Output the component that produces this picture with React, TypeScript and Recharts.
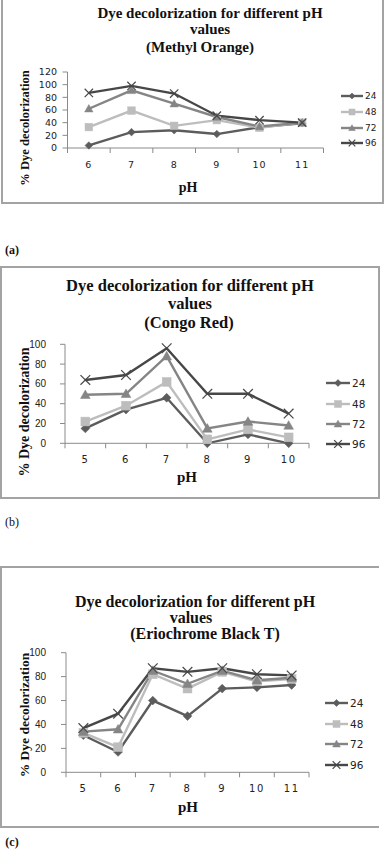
import React from 'react';
import { LineChart, Line, XAxis, YAxis } from 'recharts';

// ---------- data ----------
const SERIES_NAMES = ['24', '48', '72', '96'];
const SERIES_COLORS = ['#5c5c5c', '#bdbdbd', '#858585', '#474747'];
const SERIES_SHAPES = ['diamond', 'square', 'triangle', 'cross'];

const MO_PH = ['6', '7', '8', '9', '10', '11'];
const MO_24 = [4, 25, 28, 22, 33, 39];
const MO_48 = [33, 59, 35, 44, 32, 40];
const MO_72 = [62, 91, 70, 49, 34, 40];
const MO_96 = [87, 98, 86, 51, 44, 40];

const CR_PH = ['5', '6', '7', '8', '9', '10'];
const CR_24 = [15, 34, 46, 0, 9, 0];
const CR_48 = [22, 38, 62, 4, 14, 6];
const CR_72 = [49, 50, 88, 15, 22, 18];
const CR_96 = [64, 69, 96, 50, 50, 30];

const EBT_PH = ['5', '6', '7', '8', '9', '10', '11'];
const EBT_24 = [31, 17, 60, 47, 70, 71, 73];
const EBT_48 = [33, 21, 82, 70, 84, 76, 78];
const EBT_72 = [34, 36, 85, 74, 85, 77, 79];
const EBT_96 = [37, 49, 87, 84, 87, 82, 81];

const MO_TICKS = [0, 20, 40, 60, 80, 100, 120];
const CR_TICKS = [0, 20, 40, 60, 80, 100];
const EBT_TICKS = [0, 20, 40, 60, 80, 100];

const AXIS = '#8a8a8a';
const FRAME = '#a3a3a3';
const SERIF = '"Liberation Serif", "Times New Roman", serif';
const SANS = '"DejaVu Sans", Verdana, sans-serif';
const ARIAL = '"Liberation Sans", Arial, sans-serif';

// ---------- markers ----------
function marker(shape: string, cx: number, cy: number, color: string, s: number, key?: string) {
  if (cx == null || cy == null || isNaN(cx) || isNaN(cy)) return <g key={key} />;
  if (shape === 'diamond') {
    return (
      <path key={key} d={`M${cx},${cy - s} L${cx + s},${cy} L${cx},${cy + s} L${cx - s},${cy} Z`} fill={color} stroke={color} strokeWidth={0.5} />
    );
  }
  if (shape === 'square') {
    return <rect key={key} x={cx - s} y={cy - s} width={2 * s} height={2 * s} fill={color} stroke={color} strokeWidth={0.5} />;
  }
  if (shape === 'triangle') {
    return (
      <path key={key} d={`M${cx},${cy - s * 1.1} L${cx + s * 1.1},${cy + s * 0.85} L${cx - s * 1.1},${cy + s * 0.85} Z`} fill={color} stroke={color} strokeWidth={0.5} />
    );
  }
  return (
    <g key={key} stroke={color} strokeWidth={1.2}>
      <line x1={cx - s * 1.1} y1={cy - s * 1.1} x2={cx + s * 1.1} y2={cy + s * 1.1} />
      <line x1={cx - s * 1.1} y1={cy + s * 1.1} x2={cx + s * 1.1} y2={cy - s * 1.1} />
    </g>
  );
}

type Geo = {
  top: number;
  height: number;
  left: number;
  right: number;
  plotTop: number;
  plotBottom: number;
};

type PanelProps = {
  ph: string[];
  values: number[][];
  geo: Geo;
  yTicks: number[];
  yTickFont: { size: number; family: string };
  yTickMargin: number;
  xLabelY: number;
  xTickFont: { size: number; family: string; spacing: number };
  markerSize: number;
};

function Panel(props: PanelProps) {
  const { ph, values, geo, yTicks, yTickFont, yTickMargin, xLabelY, xTickFont, markerSize } = props;
  const n = ph.length;
  const data = ph.map((p, i) => {
    const row: any = { x: i + 0.5, pH: p };
    values.forEach((arr, k) => {
      row['s' + k] = arr[i];
    });
    return row;
  });
  const xTicks: number[] = [];
  for (let k = 0; k <= 2 * n; k++) xTicks.push(k / 2);
  const YW = 40;
  const XH = 20;
  const margin = {
    top: geo.plotTop - geo.top,
    left: geo.left - YW,
    right: 387 - geo.right,
    bottom: geo.top + geo.height - geo.plotBottom - XH,
  };
  const pb = geo.plotBottom - geo.top;
  const renderXTick = (tp: any) => {
    const { x, payload, index } = tp;
    const v = payload.value;
    if (Math.abs(v - Math.round(v)) < 1e-6) {
      return <line key={'t' + index} x1={x} x2={x} y1={pb} y2={pb + 5} stroke={AXIS} strokeWidth={1} />;
    }
    const idx = Math.floor(v);
    return (
      <text
        key={'t' + index}
        x={x}
        y={xLabelY - geo.top}
        textAnchor="middle"
        dominantBaseline="central"
        fontSize={xTickFont.size}
        fontFamily={xTickFont.family}
        letterSpacing={xTickFont.spacing}
        fill="#222"
      >
        {ph[idx]}
      </text>
    );
  };
  const yMax = yTicks[yTicks.length - 1];
  return (
    <div style={{ position: 'absolute', left: 0, top: geo.top }}>
      <LineChart width={387} height={geo.height} data={data} margin={margin}>
        <XAxis
          dataKey="x"
          type="number"
          domain={[0, n]}
          ticks={xTicks}
          interval={0}
          tickLine={false}
          tick={renderXTick}
          height={XH}
          axisLine={{ stroke: AXIS, strokeWidth: 1 }}
          allowDecimals
        />
        <YAxis
          type="number"
          domain={[0, yMax]}
          ticks={yTicks}
          interval={0}
          width={YW}
          tickSize={5}
          tickMargin={yTickMargin}
          tickLine={{ stroke: AXIS }}
          axisLine={{ stroke: AXIS, strokeWidth: 1 }}
          tick={{ fontSize: yTickFont.size, fontFamily: yTickFont.family, fill: '#222' }}
        />
        {SERIES_NAMES.map((nm, k) => (
          <Line
            key={nm}
            name={nm}
            dataKey={'s' + k}
            type="linear"
            stroke={SERIES_COLORS[k]}
            strokeWidth={2.4}
            isAnimationActive={false}
            activeDot={false}
            dot={(dp: any) => marker(SERIES_SHAPES[k], dp.cx, dp.cy, SERIES_COLORS[k], markerSize, `${nm}-${dp.index}`)}
          />
        ))}
      </LineChart>
    </div>
  );
}

function LegendBox({ x1, x2, ys, fontSize, family, markerSize }: { x1: number; x2: number; ys: number[]; fontSize: number; family: string; markerSize: number }) {
  return (
    <svg style={{ position: 'absolute', left: 0, top: 0, overflow: 'visible' }} width={387} height={858}>
      {SERIES_NAMES.map((nm, k) => (
        <g key={nm}>
          <line x1={x1} x2={x2} y1={ys[k]} y2={ys[k]} stroke={SERIES_COLORS[k]} strokeWidth={2.4} />
          {marker(SERIES_SHAPES[k], (x1 + x2) / 2, ys[k], SERIES_COLORS[k], markerSize)}
          <text x={x2 + 2} y={ys[k]} dominantBaseline="central" fontSize={fontSize} fontFamily={family} fill="#222">
            {nm}
          </text>
        </g>
      ))}
    </svg>
  );
}

function TextLine({ text, cx, cy, size, bold = true, width = 320 }: { text: string; cx: number; cy: number; size: number; bold?: boolean; width?: number }) {
  return (
    <div
      style={{
        position: 'absolute',
        left: cx - width / 2,
        top: cy - 10,
        width,
        height: 20,
        lineHeight: '20px',
        textAlign: 'center',
        fontFamily: SERIF,
        fontWeight: bold ? 'bold' : 'normal',
        fontSize: size,
        color: '#111',
        whiteSpace: 'nowrap',
      }}
    >
      {text}
    </div>
  );
}

function VText({ text, cx, cy, size }: { text: string; cx: number; cy: number; size: number }) {
  const w = 200;
  return (
    <div
      style={{
        position: 'absolute',
        left: cx - w / 2,
        top: cy - 10,
        width: w,
        height: 20,
        lineHeight: '20px',
        textAlign: 'center',
        fontFamily: SERIF,
        fontWeight: 'bold',
        fontSize: size,
        color: '#111',
        whiteSpace: 'nowrap',
        transform: 'rotate(-90deg)',
        transformOrigin: 'center center',
      }}
    >
      {text}
    </div>
  );
}

export default function App() {
  return (
    <div style={{ position: 'absolute', left: 0, top: 0, width: 387, height: 858, background: '#fff', overflow: 'hidden' }}>
      {/* frames */}
      <div style={{ position: 'absolute', left: 1, top: -2, width: 383, height: 206, boxSizing: 'border-box', border: `2px solid ${FRAME}` }} />
      <div style={{ position: 'absolute', left: 0, top: 266, width: 380, height: 233, boxSizing: 'border-box', border: `2px solid ${FRAME}` }} />
      <div style={{ position: 'absolute', left: 0, top: 566, width: 379, height: 262, boxSizing: 'border-box', border: `2px solid ${FRAME}`, borderRight: 'none' }} />

      {/* (a) Methyl Orange */}
      <TextLine text="Dye decolorization for different pH" cx={210} cy={13} size={15} />
      <TextLine text="values" cx={210} cy={29} size={15} />
      <TextLine text="(Methyl Orange)" cx={200} cy={47} size={15} />
      <VText text="% Dye decolorization" cx={25} cy={128} size={12.5} />
      <TextLine text="pH" cx={188} cy={188} size={14} />
      <Panel
        ph={MO_PH}
        values={[MO_24, MO_48, MO_72, MO_96]}
        geo={{ top: 0, height: 204, left: 67.5, right: 323.5, plotTop: 72, plotBottom: 148 }}
        yTicks={MO_TICKS}
        yTickFont={{ size: 9.5, family: SANS }}
        yTickMargin={5.5}
        xLabelY={164}
        xTickFont={{ size: 9.5, family: SANS, spacing: 1 }}
        markerSize={3.8}
      />
      <LegendBox x1={341} x2={363} ys={[96, 112, 128, 143]} fontSize={9} family={SANS} markerSize={3} />
      <TextLine text="(a)" cx={12} cy={250} size={12} />

      {/* (b) Congo Red */}
      <TextLine text="Dye decolorization for different pH" cx={190} cy={286} size={16.5} />
      <TextLine text="values" cx={190} cy={304} size={16.5} />
      <TextLine text="(Congo Red)" cx={189} cy={323} size={16.5} />
      <VText text="% Dye decolorization" cx={25} cy={412} size={14} />
      <TextLine text="pH" cx={187} cy={477} size={15} />
      <Panel
        ph={CR_PH}
        values={[CR_24, CR_48, CR_72, CR_96]}
        geo={{ top: 268, height: 229, left: 65, right: 309, plotTop: 344.3, plotBottom: 443.3 }}
        yTicks={CR_TICKS}
        yTickFont={{ size: 10, family: ARIAL }}
        yTickMargin={14}
        xLabelY={459}
        xTickFont={{ size: 10, family: SANS, spacing: 1.5 }}
        markerSize={4.4}
      />
      <LegendBox x1={326} x2={350} ys={[383, 404, 424, 444]} fontSize={10.5} family={SANS} markerSize={3.5} />
      <TextLine text="(b)" cx={12} cy={522} size={12} bold={false} />

      {/* (c) Eriochrome Black T */}
      <TextLine text="Dye decolorization for different pH" cx={195} cy={602} size={16} />
      <TextLine text="values" cx={191} cy={618} size={16} />
      <TextLine text="(Eriochrome Black T)" cx={205} cy={634} size={16} />
      <VText text="% Dye decolorization" cx={25} cy={715} size={13.5} />
      <TextLine text="pH" cx={188} cy={807} size={15} />
      <Panel
        ph={EBT_PH}
        values={[EBT_24, EBT_48, EBT_72, EBT_96]}
        geo={{ top: 568, height: 258, left: 66, right: 309, plotTop: 652.7, plotBottom: 772.3 }}
        yTicks={EBT_TICKS}
        yTickFont={{ size: 10, family: ARIAL }}
        yTickMargin={15}
        xLabelY={788}
        xTickFont={{ size: 10, family: SANS, spacing: 1.5 }}
        markerSize={4.4}
      />
      <LegendBox x1={325} x2={348} ys={[703, 724, 744, 765]} fontSize={10.5} family={SANS} markerSize={3.5} />
      <TextLine text="(c)" cx={12} cy={842} size={12} />
    </div>
  );
}
